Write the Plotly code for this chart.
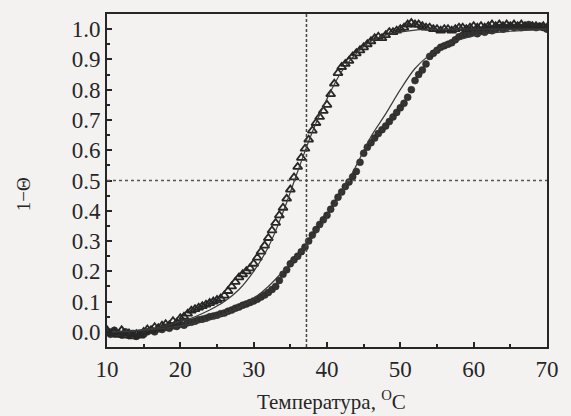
import plotly.graph_objects as go

# Temperature grid of the measured points (deg C)
temps = [10 + 0.5 * i for i in range(121)]

# Open triangles (1 - Theta)
tri_y = [0.005, -0.005, 0.0, -0.01, 0.005, -0.012, -0.005, -0.015, -0.008, -0.012,
         0.0, 0.008, 0.005, 0.015, 0.012, 0.02, 0.025, 0.022, 0.035, 0.03,
         0.045, 0.05, 0.06, 0.07, 0.075, 0.08, 0.085, 0.09, 0.095, 0.1,
         0.105, 0.11, 0.12, 0.135, 0.15, 0.165, 0.18, 0.19, 0.2, 0.21,
         0.225, 0.245, 0.265, 0.285, 0.31, 0.335, 0.36, 0.385, 0.41, 0.44,
         0.47, 0.51, 0.545, 0.575, 0.605, 0.635, 0.665, 0.69, 0.71, 0.73,
         0.75, 0.785, 0.82, 0.855, 0.875, 0.885, 0.895, 0.91, 0.92, 0.93,
         0.94, 0.95, 0.96, 0.97, 0.975, 0.97, 0.98, 0.99, 0.99, 0.995,
         1.0, 1.005, 1.015, 1.02, 1.015, 1.015, 1.01, 1.005, 1.005, 1.0,
         1.0, 0.995, 1.0, 1.0, 0.995, 1.0, 1.005, 1.005, 1.0, 1.005,
         1.01, 1.005, 1.01, 1.005, 1.01, 1.015, 1.01, 1.015, 1.01, 1.015,
         1.01, 1.015, 1.01, 1.015, 1.01, 1.005, 1.01, 1.01, 1.005, 1.01,
         1.005]

# Filled circles (1 - Theta)
circ_y = [0.0, -0.008, 0.005, -0.005, -0.01, 0.0, -0.012, -0.005, -0.015, -0.005,
          -0.008, 0.0, 0.005, 0.0, 0.01, 0.008, 0.015, 0.012, 0.02, 0.018,
          0.025, 0.022, 0.03, 0.032, 0.035, 0.04, 0.042, 0.045, 0.05, 0.052,
          0.055, 0.06, 0.062, 0.068, 0.072, 0.078, 0.082, 0.088, 0.092, 0.097,
          0.102, 0.108, 0.115, 0.122, 0.13, 0.14, 0.15, 0.17, 0.19, 0.205,
          0.225, 0.238, 0.25, 0.265, 0.28, 0.3, 0.32, 0.338, 0.355, 0.37,
          0.385, 0.405, 0.425, 0.445, 0.462, 0.48, 0.495, 0.512, 0.53, 0.56,
          0.59, 0.61, 0.625, 0.64, 0.655, 0.668, 0.68, 0.695, 0.71, 0.725,
          0.74, 0.755, 0.775, 0.8, 0.83, 0.85, 0.865, 0.885, 0.91, 0.92,
          0.93, 0.94, 0.945, 0.95, 0.955, 0.965, 0.975, 0.98, 0.985, 0.985,
          0.99, 0.985, 0.995, 0.99, 1.0, 0.995, 1.0, 1.005, 1.0, 1.005,
          1.01, 1.005, 1.01, 1.005, 1.01, 1.015, 1.01, 1.005, 1.01, 1.005,
          1.0]

# Fitted curves
fit_tri_t = [10, 14, 18, 20, 22, 24, 26, 28, 30, 32, 34, 36, 38, 40, 42, 44, 46, 48, 50, 52, 56, 60, 70]
fit_tri_y = [0.0, 0.005, 0.02, 0.035, 0.05, 0.072, 0.1, 0.14, 0.2, 0.28, 0.395, 0.53, 0.66, 0.77, 0.86, 0.92, 0.96, 0.98, 0.99, 0.997, 1.0, 1.0, 1.0]

fit_circ_t = [10, 15, 20, 24, 28, 30, 32, 34, 36, 38, 40, 42, 44, 46, 48, 50, 52, 54, 56, 58, 60, 62, 65, 70]
fit_circ_y = [0.0, 0.005, 0.02, 0.04, 0.08, 0.11, 0.15, 0.2, 0.25, 0.31, 0.38, 0.46, 0.55, 0.645, 0.72, 0.8, 0.87, 0.915, 0.945, 0.965, 0.978, 0.986, 0.993, 1.0]

x_ticks = [10, 20, 30, 40, 50, 60, 70]
y_ticks = [0.0, 0.1, 0.2, 0.3, 0.4, 0.5, 0.6, 0.7, 0.8, 0.9, 1.0]
t_mid = 37.2

ink = "#262626"
bg = "#f3f2f0"
serif = "Liberation Serif, Times New Roman, serif"

fig = go.Figure()
fig.add_trace(go.Scatter(x=temps, y=circ_y, mode="markers",
                         marker=dict(symbol="circle", size=7, color="#333333",
                                     line=dict(width=0.5, color="#222222"))))
fig.add_trace(go.Scatter(x=temps, y=tri_y, mode="markers",
                         marker=dict(symbol="triangle-up-open", size=8, color=ink,
                                     line=dict(width=1.8, color=ink))))
fig.add_trace(go.Scatter(x=fit_tri_t, y=fit_tri_y, mode="lines",
                         line=dict(color="#3a3a3a", width=1.2, shape="spline")))
fig.add_trace(go.Scatter(x=fit_circ_t, y=fit_circ_y, mode="lines",
                         line=dict(color="#3a3a3a", width=1.2, shape="spline")))

fig.add_shape(type="line", xref="x", yref="paper", x0=t_mid, x1=t_mid, y0=0, y1=1,
              line=dict(color="#444444", width=1.5, dash="3px,2px"))
fig.add_shape(type="line", xref="paper", yref="y", x0=0, x1=1, y0=0.5, y1=0.5,
              line=dict(color="#555555", width=1.5, dash="dot"))

fig.update_layout(
    width=571, height=416,
    margin=dict(l=107, r=18, t=13, b=69),
    paper_bgcolor=bg, plot_bgcolor=bg,
    showlegend=False,
    font=dict(family=serif, size=22, color=ink),
    annotations=[
        dict(text="1\u2212\u0398", xref="paper", yref="paper", x=-0.19, y=0.46,
             xanchor="center", yanchor="middle",
             textangle=-90, showarrow=False, font=dict(size=19, family=serif, color=ink)),
        dict(text="Температура, <sup>O</sup>C", xref="paper", yref="paper", x=0.511, y=-0.16,
             xanchor="center", yanchor="middle",
             showarrow=False, font=dict(size=21, family=serif, color=ink)),
    ],
)
fig.update_xaxes(range=[10, 70], tickvals=x_ticks, ticks="inside", ticklen=5, tickwidth=1.5,
                 tickfont=dict(family=serif, size=23, color=ink),
                 tickcolor=ink, showline=True, linewidth=2, linecolor=ink, mirror=True,
                 showgrid=False, zeroline=False,
                 minor=dict(dtick=5, ticks="inside", ticklen=3, tickcolor=ink, showgrid=False))
fig.update_yaxes(range=[-0.05, 1.05], tickvals=y_ticks, tickformat=".1f", ticks="inside",
                 tickfont=dict(family=serif, size=23, color=ink),
                 ticklen=5, tickwidth=1.5, tickcolor=ink, showline=True, linewidth=2,
                 linecolor=ink, mirror=True, showgrid=False, zeroline=False,
                 minor=dict(dtick=0.05, ticks="inside", ticklen=3, tickcolor=ink, showgrid=False))

fig.write_html("out.html")
